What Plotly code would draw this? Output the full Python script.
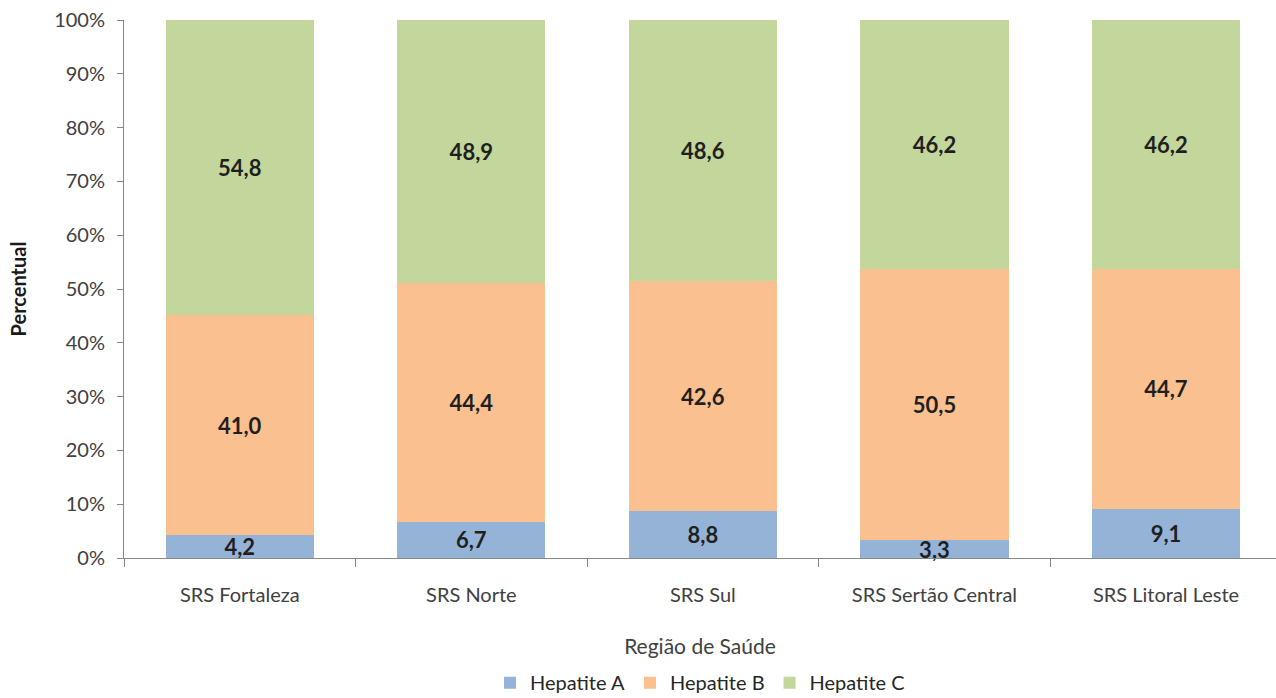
import plotly.graph_objects as go

regions = ["SRS Fortaleza", "SRS Norte", "SRS Sul", "SRS Sertão Central", "SRS Litoral Leste"]
hep_a = [4.2, 6.7, 8.8, 3.3, 9.1]
hep_b = [41.0, 44.4, 42.6, 50.5, 44.7]
hep_c = [54.8, 48.9, 48.6, 46.2, 46.2]
series_names = ["Hepatite A", "Hepatite B", "Hepatite C"]
colors = ["#95B3D7", "#FAC090", "#C3D69B"]
y_ticks = [0, 10, 20, 30, 40, 50, 60, 70, 80, 90, 100]
y_tick_labels = [f"{v}%" for v in y_ticks]

FONT = "Lato, Open Sans, sans-serif"

def fmt(v):
    return f"{v:.1f}".replace(".", ",")

fig = go.Figure()
for name, vals, col in zip(series_names, [hep_a, hep_b, hep_c], colors):
    fig.add_trace(go.Bar(
        name=name, x=regions, y=vals, marker=dict(color=col, line=dict(width=0)),
        text=[fmt(v) for v in vals], textposition="inside", insidetextanchor="middle",
        constraintext="none", textangle=0, cliponaxis=False,
        textfont=dict(family=FONT, size=22, color="#1f1f1f", weight="bold"),
        hoverinfo="skip",
    ))

fig.update_layout(
    barmode="stack", barnorm="percent", bargap=0.36,
    width=1276, height=698,
    margin=dict(l=124, r=0, t=20, b=140, autoexpand=False),
    plot_bgcolor="white", paper_bgcolor="white",
    font=dict(family=FONT, size=20, color="#404040"),
    showlegend=True,
    legend=dict(orientation="h", x=0.5, xanchor="center", yref="container",
                y=0.022, yanchor="middle",
                font=dict(size=20, color="#262626"), traceorder="normal",
                itemwidth=30, tracegroupgap=0),
)
fig.update_xaxes(
    range=[-0.5, 4.475], showline=True, linecolor="#868686", linewidth=1,
    ticks="outside", tickson="boundaries", ticklen=8, tickcolor="#868686",
    tickfont=dict(size=20, color="#404040"), ticklabelstandoff=19,
    title=dict(text="Região de Saúde", standoff=34, font=dict(size=21, color="#404040")),
    automargin=False,
)
fig.update_yaxes(
    range=[0, 100], tickvals=y_ticks, ticktext=y_tick_labels,
    showline=True, linecolor="#868686", linewidth=1, showgrid=False, zeroline=False,
    ticks="outside", ticklen=6, tickcolor="#868686",
    tickfont=dict(size=20, color="#404040"), ticklabelstandoff=8,
    title=dict(text="<b>Percentual</b>", standoff=22, font=dict(size=20, color="#1a1a1a")),
    automargin=False,
)

fig.write_html("out.html")
